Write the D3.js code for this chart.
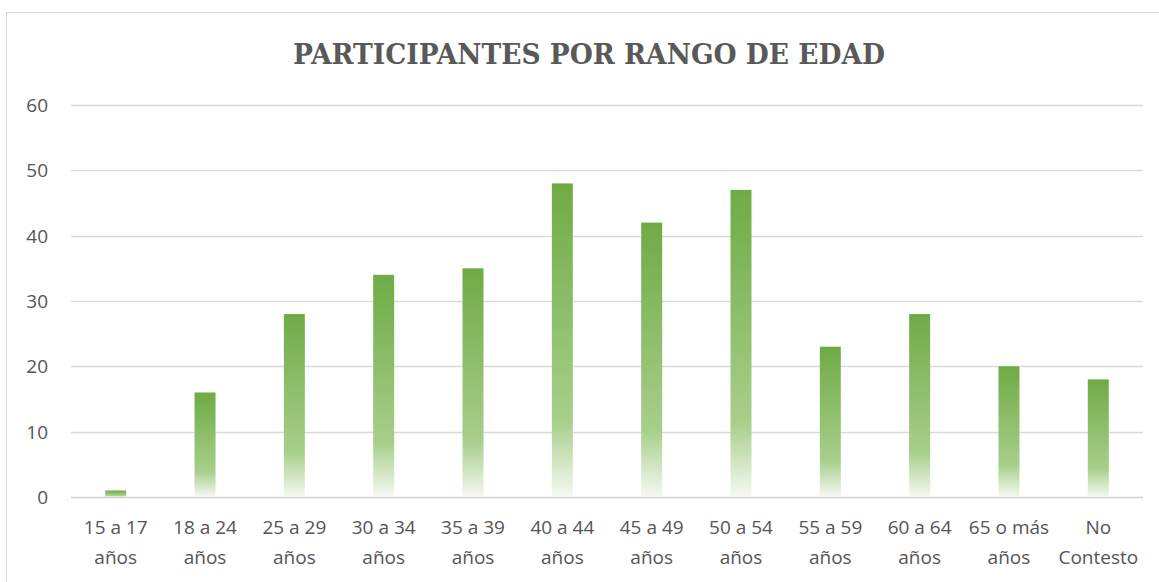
<!DOCTYPE html>
<html>
<head>
<meta charset="utf-8">
<script src="https://cdn.jsdelivr.net/npm/d3@7"></script>
<style>
  body { margin: 0; background: #fff; }
  svg text { font-family: "Open Sans", "Liberation Sans", sans-serif; }
</style>
</head>
<body>
<div id="chart"></div>
<script>
var categories = ["15 a 17 años", "18 a 24 años", "25 a 29 años", "30 a 34 años", "35 a 39 años", "40 a 44 años",
                  "45 a 49 años", "50 a 54 años", "55 a 59 años", "60 a 64 años", "65 o más años", "No Contesto"];
var labelLines = [["15 a 17", "años"], ["18 a 24", "años"], ["25 a 29", "años"], ["30 a 34", "años"],
                  ["35 a 39", "años"], ["40 a 44", "años"], ["45 a 49", "años"], ["50 a 54", "años"],
                  ["55 a 59", "años"], ["60 a 64", "años"], ["65 o más", "años"], ["No", "Contesto"]];
var participantes = [1, 16, 28, 34, 35, 48, 42, 47, 23, 28, 20, 18];
var yTicks = [0, 10, 20, 30, 40, 50, 60];

var width = 1159, height = 582;
var margin = {left: 71, right: 16, top: 105, bottom: 85};

var svg = d3.select("#chart").append("svg")
    .attr("width", width).attr("height", height);

// frame of the chart
svg.append("rect")
    .attr("x", 6.5).attr("y", 12.5)
    .attr("width", width + 10).attr("height", height + 10)
    .attr("fill", "#fff").attr("stroke", "#d9d9d9");

var defs = svg.append("defs");
var grad = defs.append("linearGradient")
    .attr("id", "barGrad").attr("x1", 0).attr("y1", 0).attr("x2", 0).attr("y2", 1);
grad.append("stop").attr("offset", "0%").attr("stop-color", "#6eab45");
grad.append("stop").attr("offset", "76%").attr("stop-color", "#a8cf8b");
grad.append("stop").attr("offset", "100%").attr("stop-color", "#f6f9f3");

var x = d3.scaleBand()
    .domain(categories)
    .range([margin.left, width - margin.right])
    .paddingInner(0.765).paddingOuter(0.383);

var y = d3.scaleLinear()
    .domain([0, 60])
    .range([height - margin.bottom, margin.top]);

// gridlines
svg.append("g").selectAll("line")
    .data(yTicks).enter().append("line")
    .attr("x1", margin.left).attr("x2", width - margin.right)
    .attr("y1", function(d) { return Math.round(y(d)) + 0.5; })
    .attr("y2", function(d) { return Math.round(y(d)) + 0.5; })
    .attr("stroke", function(d) { return d == 0 ? "#d0d0d0" : "#d9d9d9"; })
    .attr("stroke-width", 1.3);

// y labels
svg.append("g").selectAll("text")
    .data(yTicks).enter().append("text")
    .attr("x", 48).attr("y", function(d) { return y(d) + 7; })
    .attr("text-anchor", "end")
    .style("font-size", "19px").style("fill", "#555")
    .text(function(d) { return d; });

// bars
svg.append("g").selectAll("rect")
    .data(participantes).enter().append("rect")
    .attr("x", function(d, i) { return x(categories[i]); })
    .attr("y", function(d) { return y(d); })
    .attr("width", x.bandwidth())
    .attr("height", function(d) { return y(0) - y(d); })
    .attr("fill", "url(#barGrad)");

// x labels
var xl = svg.append("g").selectAll("text")
    .data(categories).enter().append("text")
    .attr("text-anchor", "middle")
    .attr("transform", function(d) { return "translate(" + (x(d) + x.bandwidth() / 2) + ",0)"; })
    .style("font-size", "19px").style("fill", "#555");
xl.append("tspan").attr("x", 0).attr("y", 534)
    .text(function(d, i) { return labelLines[i][0]; });
xl.append("tspan").attr("x", 0).attr("y", 564)
    .text(function(d, i) { return labelLines[i][1]; });

// title
svg.append("text")
    .attr("x", 589).attr("y", 64)
    .attr("text-anchor", "middle")
    .attr("textLength", 592).attr("lengthAdjust", "spacingAndGlyphs")
    .style("font-family", "'DejaVu Serif', serif")
    .style("font-weight", "bold")
    .style("font-size", "27px")
    .style("fill", "#595959")
    .text("PARTICIPANTES POR RANGO DE EDAD");
</script>
</body>
</html>
